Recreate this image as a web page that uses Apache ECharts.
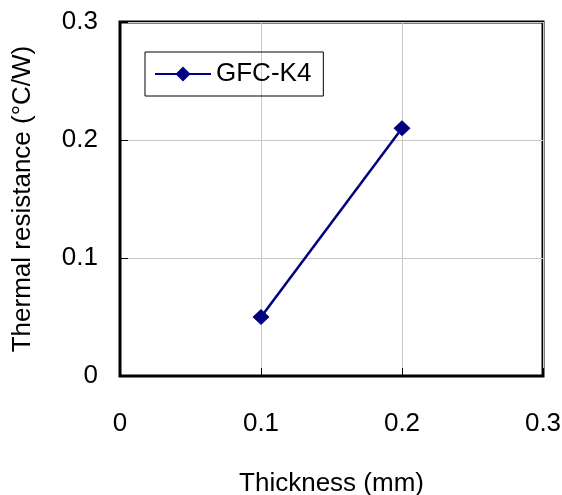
<!DOCTYPE html>
<html><head><meta charset="utf-8">
<script src="https://cdn.jsdelivr.net/npm/echarts@6/dist/echarts.min.js"></script>
<style>html,body{margin:0;padding:0;background:#fff}#c{width:562px;height:495px}</style>
</head><body><div id="c"></div>
<script>
const seriesName = 'GFC-K4';
const thickness = [0.1, 0.2];
const resistance = [0.05, 0.21];
const xTicks = [0, 0.1, 0.2, 0.3];
const yTicks = [0, 0.1, 0.2, 0.3];

const chart = echarts.init(document.getElementById('c'));
const font = '"Liberation Sans", Arial, sans-serif';
const legendIcon = 'path://M0,6.5H56V8.5H0Z M28,0L35.5,7.5L28,15L20.5,7.5Z';
chart.setOption({
  animation: false,
  backgroundColor: '#fff',
  grid: {left: 120, right: 19, top: 22, bottom: 119, show: true, borderColor: '#000', borderWidth: 3,
    containLabel: false, outerBoundsMode: 'none'},
  legend: {
    left: 145, top: 52, width: 180, height: 47,
    padding: [9, 12, 9, 10],
    borderColor: '#000', borderWidth: 1,
    itemWidth: 56, itemHeight: 15, itemGap: 6,
    textStyle: {fontFamily: font, fontSize: 26, color: '#000'},
    data: [{name: seriesName, icon: legendIcon, itemStyle: {color: '#000080'}}]
  },
  xAxis: {
    type: 'value', min: 0, max: 0.3, interval: 0.1,
    name: 'Thickness (mm)', nameLocation: 'middle', nameGap: 95,
    nameTextStyle: {fontFamily: font, fontSize: 26, color: '#000'},
    axisLine: {show: true, lineStyle: {color: '#000', width: 2}},
    axisTick: {show: true, inside: true, length: 8, lineStyle: {color: '#000', width: 1}},
    axisLabel: {fontFamily: font, fontSize: 26, color: '#000', margin: 35,
      formatter: v => { const t = xTicks.find(x => Math.abs(x - v) < 1e-9); return t === 0 ? '0' : String(t); }},
    splitLine: {show: true, lineStyle: {color: '#c8c8c8', width: 1}}
  },
  yAxis: {
    type: 'value', min: 0, max: 0.3, interval: 0.1,
    name: 'Thermal resistance (°C/W)', nameLocation: 'middle', nameGap: 84,
    nameTextStyle: {fontFamily: font, fontSize: 26, color: '#000'},
    axisLine: {show: true, lineStyle: {color: '#000', width: 2}},
    axisTick: {show: true, inside: true, length: 8, lineStyle: {color: '#000', width: 1}},
    axisLabel: {fontFamily: font, fontSize: 26, color: '#000', margin: 22,
      formatter: v => { const t = yTicks.find(x => Math.abs(x - v) < 1e-9); return t === 0 ? '0' : String(t); }},
    splitLine: {show: true, lineStyle: {color: '#c8c8c8', width: 1}}
  },
  series: [{
    name: seriesName, type: 'line',
    data: thickness.map((x, i) => [x, resistance[i]]),
    symbol: 'diamond', symbolSize: [17, 16],
    lineStyle: {color: '#000080', width: 2.5},
    itemStyle: {color: '#000080'}
  }]
});
</script></body></html>
